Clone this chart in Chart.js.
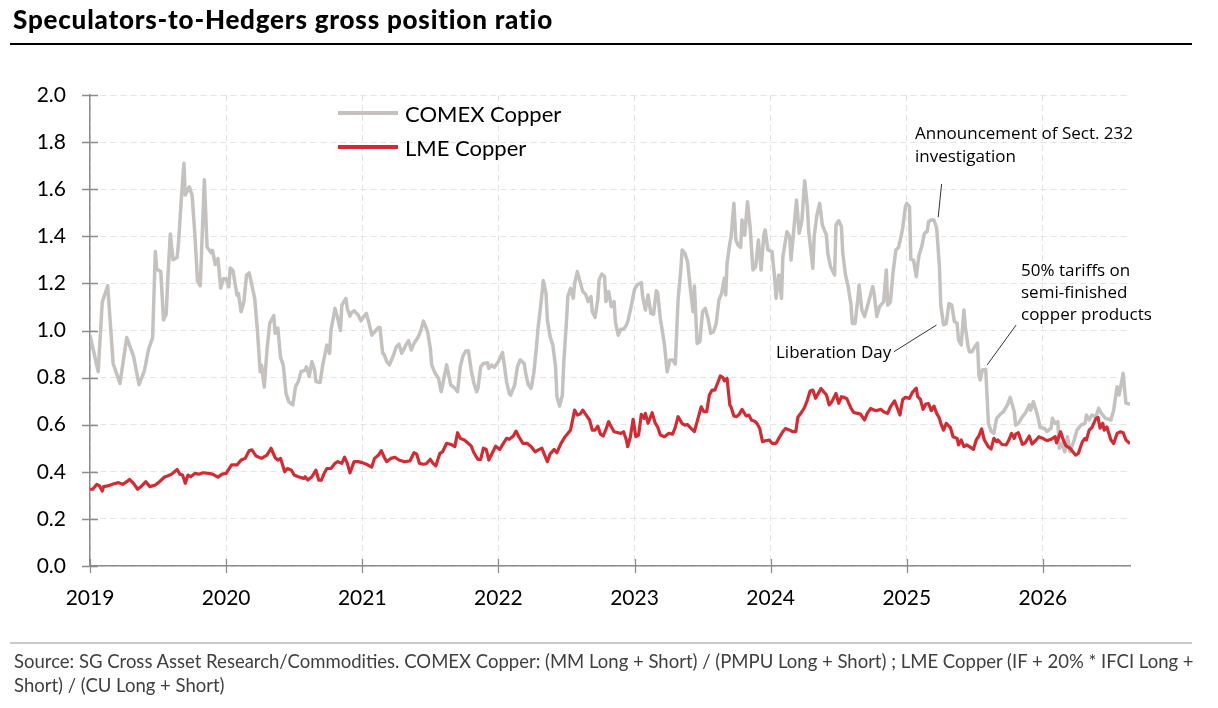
<!DOCTYPE html>
<html>
<head>
<meta charset="utf-8">
<script src="https://cdn.jsdelivr.net/npm/chart.js@4.4.1/dist/chart.umd.min.js"></script>
<style>
  html, body { margin:0; padding:0; background:#fff; }
  body { width:1218px; height:708px; position:relative; overflow:hidden; }
  #c { position:absolute; left:0; top:0; }
  .abs { position:absolute; z-index:2; }
  #title { left:13px; top:3.5px; font:900 26px 'Lato'; line-height:1.2; color:#000; white-space:nowrap; }
  #rule { left:10px; top:42.7px; width:1182px; height:2.7px; background:#000; }
  #frule { left:10px; top:642px; width:1182px; height:2px; background:#c9c9c9; }
  #foot { left:14px; top:650.4px; font:18.5px 'Lato'; color:#404040; line-height:23.5px; white-space:nowrap; }
  .leg { left:338px; height:34px; display:flex; align-items:center; font:22px 'Lato'; color:#000; white-space:nowrap; }
  .sw { width:60px; height:4px; margin-right:7px; }
  .ann { font:17px 'Open Sans'; color:#000; line-height:22.5px; white-space:nowrap; }
</style>
</head>
<body>
<canvas id="c" width="1218" height="708"></canvas>
<div id="title" class="abs">Speculators-to-Hedgers gross position ratio</div>
<div id="rule" class="abs"></div>
<div class="abs leg" style="top:96px"><span class="sw" style="background:#c4c1bf"></span>COMEX Copper</div>
<div class="abs leg" style="top:130px"><span class="sw" style="background:#d42a32"></span>LME Copper</div>
<div class="abs ann" style="left:915px; top:122px">Announcement of Sect. 232<br>investigation</div>
<div class="abs ann" style="left:776px; top:341px">Liberation Day</div>
<div class="abs ann" style="left:1021px; top:259px; line-height:22px">50% tariffs on<br>semi-finished<br>copper products</div>
<div id="frule" class="abs"></div>
<div id="foot" class="abs">Source: SG Cross Asset Research/Commodities. COMEX Copper: (MM Long + Short) / (PMPU Long + Short) ; LME Copper (IF + 20% * IFCI Long +<br>Short) / (CU Long + Short)</div>
<script>
// ---- data ----
const xTicks = [2019, 2020, 2021, 2022, 2023, 2024, 2025, 2026];
const yTicks = [0, 0.2, 0.4, 0.6, 0.8, 1.0, 1.2, 1.4, 1.6, 1.8, 2.0];

const comexDates = [
 2019.00,2019.06,2019.09,2019.13,2019.17,2019.22,2019.27,2019.32,2019.34,2019.36,
 2019.40,2019.43,2019.46,2019.48,2019.49,2019.52,2019.54,2019.56,2019.57,2019.59,
 2019.61,2019.64,2019.65,2019.67,2019.69,2019.70,2019.73,2019.75,2019.77,2019.79,
 2019.81,2019.82,2019.84,2019.86,2019.89,2019.90,2019.92,2019.94,2019.96,2019.98,
 2020.00,2020.02,2020.03,2020.05,2020.08,2020.09,2020.11,2020.13,2020.15,2020.17,
 2020.21,2020.23,2020.25,2020.26,2020.28,2020.30,2020.32,2020.35,2020.36,2020.38,
 2020.40,2020.42,2020.44,2020.46,2020.49,2020.51,2020.53,2020.55,2020.58,2020.59,
 2020.61,2020.63,2020.65,2020.66,2020.69,2020.71,2020.74,2020.76,2020.77,2020.80,
 2020.82,2020.84,2020.85,2020.88,2020.89,2020.91,2020.92,2020.94,2020.97,2020.99,
 2021.01,2021.03,2021.05,2021.07,2021.10,2021.12,2021.13,2021.15,2021.16,2021.18,
 2021.20,2021.23,2021.25,2021.27,2021.29,2021.32,2021.34,2021.36,2021.38,2021.41,
 2021.43,2021.45,2021.48,2021.50,2021.51,2021.53,2021.56,2021.58,2021.60,2021.62,
 2021.63,2021.65,2021.68,2021.70,2021.72,2021.74,2021.76,2021.78,2021.80,2021.82,
 2021.84,2021.85,2021.87,2021.89,2021.92,2021.93,2021.95,2021.97,2022.00,2022.03,
 2022.04,2022.06,2022.08,2022.09,2022.12,2022.14,2022.16,2022.19,2022.20,2022.22,
 2022.24,2022.26,2022.28,2022.29,2022.31,2022.33,2022.35,2022.36,2022.38,2022.40,
 2022.42,2022.43,2022.45,2022.47,2022.48,2022.50,2022.51,2022.53,2022.55,2022.56,
 2022.58,2022.60,2022.62,2022.64,2022.66,2022.68,2022.69,2022.71,2022.73,2022.74,
 2022.76,2022.78,2022.79,2022.81,2022.83,2022.85,2022.86,2022.88,2022.90,2022.92,
 2022.94,2022.95,2022.97,2023.00,2023.02,2023.05,2023.06,2023.08,2023.10,2023.12,
 2023.14,2023.16,2023.17,2023.19,2023.22,2023.24,2023.26,2023.28,2023.30,2023.32,
 2023.34,2023.35,2023.37,2023.39,2023.41,2023.43,2023.44,2023.46,2023.48,2023.50,
 2023.52,2023.54,2023.56,2023.58,2023.60,2023.62,2023.64,2023.66,2023.67,2023.68,
 2023.70,2023.71,2023.73,2023.745,2023.76,2023.78,2023.79,2023.81,2023.83,2023.85,
 2023.87,2023.89,2023.91,2023.93,2023.95,2023.96,2023.98,2024.01,2024.03,2024.04,
 2024.06,2024.08,2024.09,2024.12,2024.14,2024.15,2024.17,2024.19,2024.21,2024.23,
 2024.25,2024.27,2024.28,2024.31,2024.32,2024.34,2024.36,2024.38,2024.41,2024.42,
 2024.44,2024.47,2024.48,2024.50,2024.52,2024.53,2024.55,2024.57,2024.59,2024.60,
 2024.62,2024.64,2024.65,2024.67,2024.69,2024.71,2024.73,2024.75,2024.76,2024.78,
 2024.80,2024.83,2024.85,2024.86,2024.88,2024.90,2024.92,2024.94,2024.96,2024.97,
 2024.99,2025.00,2025.02,2025.03,2025.05,2025.07,2025.09,2025.11,2025.13,2025.15,
 2025.16,2025.18,2025.20,2025.22,2025.24,2025.25,2025.27,2025.29,2025.31,2025.33,
 2025.35,2025.37,2025.38,2025.40,2025.42,2025.43,2025.45,2025.46,2025.48,2025.50,
 2025.52,2025.53,2025.54,2025.555,2025.58,2025.59,2025.60,2025.62,2025.64,2025.66,
 2025.69,2025.71,2025.74,2025.76,2025.79,2025.80,2025.82,2025.85,2025.87,2025.90,
 2025.91,2025.93,2025.96,2025.98,2026.01,2026.03,2026.06,2026.07,2026.09,2026.11,
 2026.12,2026.14,2026.16,2026.18,2026.20,2026.23,2026.25,2026.28,2026.31,2026.32,
 2026.34,2026.36,2026.39,2026.41,2026.43,2026.46,2026.50,2026.52,2026.545,2026.56,
 2026.59,2026.61,2026.64
];
const comexValues = [
 0.98,0.825,1.12,1.19,0.86,0.775,0.97,0.89,0.83,0.77,
 0.83,0.92,0.97,1.335,1.26,1.25,1.045,1.07,1.2,1.41,
 1.30,1.31,1.37,1.55,1.71,1.575,1.61,1.575,1.41,1.21,
 1.19,1.34,1.64,1.355,1.33,1.34,1.28,1.305,1.18,1.22,
 1.22,1.185,1.265,1.255,1.15,1.157,1.08,1.12,1.235,1.245,
 1.135,1.0,0.825,0.853,0.76,0.917,1.03,1.063,0.988,1.01,
 0.885,0.853,0.733,0.698,0.684,0.762,0.783,0.825,0.832,0.846,
 0.804,0.868,0.832,0.783,0.779,0.854,0.938,0.903,1.0,1.094,
 1.052,1.0,1.108,1.136,1.094,1.061,1.075,1.084,1.066,1.041,
 1.058,1.073,1.03,0.98,1.0,1.013,1.013,0.903,0.9,0.868,
 0.854,0.896,0.931,0.942,0.903,0.938,0.957,0.917,0.945,0.971,
 1.0,1.04,0.995,0.924,0.854,0.825,0.797,0.74,0.797,0.854,
 0.825,0.769,0.755,0.74,0.846,0.892,0.913,0.914,0.832,0.776,
 0.74,0.754,0.846,0.86,0.863,0.839,0.853,0.843,0.868,0.906,
 0.868,0.783,0.733,0.726,0.769,0.846,0.875,0.86,0.82,0.769,
 0.754,0.818,0.931,1.002,1.101,1.212,1.158,1.045,0.974,0.938,
 0.846,0.719,0.679,0.726,0.86,1.037,1.144,1.179,1.137,1.198,
 1.25,1.208,1.165,1.155,1.123,1.144,1.08,1.056,1.13,1.215,
 1.24,1.229,1.123,1.165,1.101,1.123,1.037,0.98,1.005,1.005,
 1.023,1.037,1.087,1.175,1.194,1.203,1.144,1.087,1.151,1.073,
 1.069,1.169,1.16,1.05,0.94,0.825,0.875,0.875,0.858,1.129,
 1.257,1.342,1.328,1.292,1.179,1.08,1.189,0.945,0.952,1.08,
 1.094,1.052,0.988,0.995,1.03,1.129,1.158,1.222,1.151,1.285,
 1.37,1.399,1.54,1.384,1.363,1.353,1.469,1.405,1.547,1.434,
 1.257,1.271,1.384,1.257,1.405,1.427,1.342,1.335,1.222,1.137,
 1.236,1.137,1.313,1.419,1.399,1.299,1.427,1.554,1.413,1.469,
 1.636,1.526,1.419,1.264,1.399,1.491,1.54,1.448,1.405,1.328,
 1.271,1.236,1.448,1.466,1.441,1.328,1.236,1.186,1.11,1.03,
 1.03,1.129,1.193,1.087,1.059,1.101,1.144,1.186,1.158,1.059,
 1.101,1.122,1.257,1.108,1.122,1.25,1.342,1.353,1.405,1.434,
 1.526,1.54,1.526,1.302,1.299,1.228,1.32,1.356,1.413,1.42,
 1.462,1.469,1.469,1.434,1.271,1.108,1.024,1.03,1.115,1.108,
 1.038,1.03,0.96,0.939,1.087,1.016,0.935,0.91,0.91,0.932,
 0.946,0.81,0.79,0.832,0.835,0.72,0.606,0.571,0.563,0.627,
 0.646,0.655,0.684,0.716,0.655,0.598,0.606,0.634,0.648,0.684,
 0.662,0.698,0.641,0.588,0.585,0.571,0.585,0.627,0.606,0.613,
 0.5,0.52,0.485,0.549,0.485,0.535,0.577,0.598,0.606,0.641,
 0.62,0.641,0.634,0.67,0.648,0.627,0.62,0.662,0.761,0.726,
 0.818,0.691,0.688
];

const lmeDates = [
 2019.00,2019.02,2019.05,2019.07,2019.09,2019.10,2019.13,2019.17,2019.21,2019.24,
 2019.27,2019.29,2019.32,2019.35,2019.38,2019.41,2019.44,2019.48,2019.51,2019.55,
 2019.57,2019.60,2019.64,2019.66,2019.68,2019.70,2019.72,2019.74,2019.77,2019.80,
 2019.83,2019.87,2019.90,2019.94,2019.97,2020.00,2020.04,2020.08,2020.11,2020.14,
 2020.17,2020.19,2020.22,2020.26,2020.30,2020.33,2020.36,2020.38,2020.40,2020.43,
 2020.45,2020.48,2020.50,2020.53,2020.57,2020.58,2020.60,2020.63,2020.66,2020.68,
 2020.70,2020.72,2020.74,2020.77,2020.80,2020.82,2020.85,2020.87,2020.89,2020.91,
 2020.94,2020.97,2021.00,2021.03,2021.07,2021.09,2021.12,2021.14,2021.16,2021.18,
 2021.21,2021.24,2021.27,2021.31,2021.35,2021.38,2021.40,2021.42,2021.45,2021.47,
 2021.50,2021.52,2021.54,2021.57,2021.59,2021.62,2021.64,2021.66,2021.68,2021.70,
 2021.72,2021.75,2021.78,2021.80,2021.82,2021.85,2021.87,2021.89,2021.91,2021.93,
 2021.96,2021.98,2022.01,2022.03,2022.06,2022.08,2022.11,2022.13,2022.15,2022.18,
 2022.21,2022.24,2022.27,2022.29,2022.32,2022.34,2022.36,2022.38,2022.41,2022.43,
 2022.46,2022.49,2022.51,2022.53,2022.56,2022.58,2022.60,2022.62,2022.64,2022.67,
 2022.69,2022.71,2022.73,2022.75,2022.77,2022.79,2022.81,2022.83,2022.85,2022.88,
 2022.90,2022.92,2022.94,2022.95,2022.97,2022.99,2023.01,2023.03,2023.05,2023.07,
 2023.08,2023.10,2023.13,2023.15,2023.17,2023.19,2023.22,2023.25,2023.28,2023.30,
 2023.32,2023.35,2023.37,2023.39,2023.41,2023.44,2023.46,2023.49,2023.51,2023.53,
 2023.55,2023.57,2023.59,2023.61,2023.63,2023.65,2023.66,2023.68,2023.70,2023.71,
 2023.73,2023.75,2023.77,2023.79,2023.82,2023.84,2023.86,2023.88,2023.90,2023.92,
 2023.94,2023.96,2023.99,2024.01,2024.04,2024.06,2024.09,2024.11,2024.14,2024.16,
 2024.185,2024.20,2024.23,2024.25,2024.27,2024.29,2024.31,2024.33,2024.35,2024.37,
 2024.39,2024.41,2024.43,2024.45,2024.48,2024.50,2024.52,2024.54,2024.56,2024.59,
 2024.61,2024.64,2024.66,2024.69,2024.71,2024.735,2024.76,2024.78,2024.81,2024.83,
 2024.86,2024.88,2024.91,2024.93,2024.95,2024.97,2024.99,2025.02,2025.04,2025.07,
 2025.08,2025.10,2025.12,2025.14,2025.16,2025.18,2025.20,2025.22,2025.24,2025.25,
 2025.27,2025.29,2025.32,2025.34,2025.37,2025.38,2025.40,2025.42,2025.44,2025.46,
 2025.49,2025.51,2025.53,2025.55,2025.57,2025.60,2025.62,2025.64,2025.66,2025.67,
 2025.70,2025.73,2025.75,2025.77,2025.79,2025.80,2025.82,2025.85,2025.87,2025.90,
 2025.92,2025.95,2025.97,2026.00,2026.03,2026.06,2026.09,2026.10,2026.13,2026.15,
 2026.17,2026.20,2026.22,2026.24,2026.26,2026.29,2026.31,2026.32,2026.34,2026.36,
 2026.39,2026.405,2026.42,2026.44,2026.45,2026.47,2026.50,2026.52,2026.545,2026.57,
 2026.59,2026.61,2026.64
];
const lmeValues = [
 0.326,0.326,0.347,0.34,0.318,0.337,0.34,0.348,0.354,0.347,
 0.358,0.368,0.351,0.326,0.34,0.358,0.337,0.344,0.358,0.379,
 0.382,0.39,0.41,0.39,0.386,0.351,0.386,0.379,0.393,0.39,
 0.396,0.393,0.39,0.377,0.39,0.393,0.429,0.429,0.45,0.457,
 0.49,0.493,0.467,0.457,0.471,0.5,0.46,0.45,0.457,0.4,
 0.414,0.407,0.386,0.379,0.372,0.379,0.365,0.379,0.407,0.365,
 0.365,0.393,0.414,0.414,0.436,0.443,0.436,0.462,0.436,0.396,
 0.443,0.443,0.439,0.432,0.42,0.457,0.471,0.49,0.464,0.443,
 0.457,0.462,0.45,0.443,0.446,0.481,0.475,0.436,0.432,0.434,
 0.453,0.436,0.425,0.478,0.485,0.521,0.518,0.514,0.507,0.566,
 0.542,0.535,0.52,0.51,0.481,0.453,0.453,0.5,0.496,0.45,
 0.485,0.509,0.495,0.514,0.542,0.538,0.552,0.573,0.549,0.521,
 0.521,0.507,0.485,0.492,0.5,0.471,0.443,0.476,0.495,0.481,
 0.521,0.549,0.563,0.577,0.662,0.641,0.645,0.662,0.645,0.62,
 0.577,0.577,0.594,0.56,0.552,0.58,0.613,0.59,0.57,0.566,
 0.563,0.57,0.535,0.507,0.549,0.623,0.549,0.556,0.644,0.627,
 0.648,0.606,0.651,0.61,0.59,0.556,0.549,0.563,0.56,0.59,
 0.634,0.605,0.598,0.6,0.588,0.571,0.613,0.676,0.655,0.655,
 0.726,0.747,0.747,0.776,0.807,0.8,0.786,0.797,0.684,0.674,
 0.637,0.634,0.645,0.665,0.637,0.641,0.619,0.616,0.605,0.584,
 0.528,0.532,0.535,0.521,0.521,0.542,0.571,0.584,0.577,0.571,
 0.571,0.632,0.655,0.674,0.705,0.743,0.747,0.712,0.733,0.754,
 0.74,0.726,0.684,0.698,0.733,0.691,0.719,0.716,0.71,0.67,
 0.652,0.648,0.645,0.62,0.648,0.669,0.662,0.66,0.665,0.655,
 0.648,0.676,0.701,0.672,0.641,0.707,0.716,0.712,0.736,0.755,
 0.719,0.708,0.665,0.688,0.69,0.66,0.679,0.648,0.627,0.606,
 0.577,0.606,0.589,0.549,0.542,0.514,0.535,0.507,0.514,0.507,
 0.495,0.535,0.552,0.582,0.535,0.506,0.497,0.542,0.528,0.535,
 0.516,0.514,0.535,0.563,0.542,0.56,0.566,0.516,0.523,0.552,
 0.518,0.535,0.549,0.542,0.532,0.538,0.549,0.523,0.57,0.535,
 0.51,0.5,0.485,0.471,0.478,0.528,0.542,0.535,0.577,0.588,
 0.627,0.631,0.585,0.606,0.577,0.59,0.535,0.52,0.563,0.57,
 0.566,0.535,0.52
];

// annotation connectors, in data units (year, ratio)
const connectors = [
  { from: [2025.256, 1.622], to: [2025.231, 1.481] },  // Sect. 232
  { from: [2024.906, 0.910], to: [2025.218, 1.023] },  // Liberation Day
  { from: [2025.803, 1.023], to: [2025.591, 0.854] }   // 50% tariffs
];

const GRAY = '#c4c1bf';
const RED = '#d42a32';
const AXIS = '#8c8c8c';

// fit the title to the reference width
(function fitTitle() {
  const t = document.getElementById('title');
  const target = 540;
  const n = t.textContent.length;
  const w = t.getBoundingClientRect().width;
  t.style.letterSpacing = ((target - w) / (n - 1)).toFixed(2) + 'px';
})();

const toPts = (xs, ys) => xs.map((d, i) => ({ x: d, y: ys[i] }));

const overlay = {
  id: 'overlay',
  afterDraw(chart) {
    const { ctx, chartArea: a, scales: { x, y } } = chart;
    ctx.save();
    ctx.strokeStyle = AXIS;
    ctx.lineWidth = 1.3;
    ctx.beginPath();
    y.ticks.forEach(t => {
      const py = Math.round(y.getPixelForValue(t.value)) + 0.5;
      ctx.moveTo(a.left - 8, py); ctx.lineTo(a.left + 8, py);
    });
    x.ticks.forEach(t => {
      const px = Math.round(x.getPixelForValue(t.value)) + 0.5;
      ctx.moveTo(px, a.bottom - 7); ctx.lineTo(px, a.bottom + 7);
    });
    ctx.stroke();
    ctx.strokeStyle = '#333';
    ctx.lineWidth = 1;
    ctx.beginPath();
    connectors.forEach(c => {
      ctx.moveTo(x.getPixelForValue(c.from[0]), y.getPixelForValue(c.from[1]));
      ctx.lineTo(x.getPixelForValue(c.to[0]), y.getPixelForValue(c.to[1]));
    });
    ctx.stroke();
    ctx.restore();
  }
};

const gridOpts = { color: '#e4e4e4', lineWidth: 1, drawTicks: false };
const borderOpts = { display: true, color: AXIS, width: 1.5, dash: [6, 4] };

new Chart(document.getElementById('c'), {
  type: 'line',
  data: {
    datasets: [
      { label: 'LME Copper', data: toPts(lmeDates, lmeValues), borderColor: RED, borderWidth: 3.2,
        pointRadius: 0, tension: 0, order: 0, borderJoinStyle: 'round' },
      { label: 'COMEX Copper', data: toPts(comexDates, comexValues), borderColor: GRAY, borderWidth: 3.5,
        pointRadius: 0, tension: 0, order: 1, borderJoinStyle: 'round' }
    ]
  },
  options: {
    responsive: false,
    animation: false,
    layout: { padding: { top: 95, right: 88, left: 0, bottom: 0 } },
    plugins: { legend: { display: false }, tooltip: { enabled: false } },
    scales: {
      x: {
        type: 'linear', min: 2019, max: 2026.64,
        afterBuildTicks: s => { s.ticks = xTicks.map(v => ({ value: v })); },
        afterFit: s => { s.height = 142; },
        ticks: { callback: v => String(v), font: { family: 'Lato', size: 21 }, color: '#000',
                 padding: 20, maxRotation: 0, autoSkip: false },
        grid: gridOpts, border: borderOpts
      },
      y: {
        min: 0, max: 2,
        afterBuildTicks: s => { s.ticks = yTicks.map(v => ({ value: v })); },
        afterFit: s => { s.width = 90; },
        ticks: { callback: v => v.toFixed(1), font: { family: 'Lato', size: 21 }, color: '#000', padding: 24 },
        grid: gridOpts, border: borderOpts
      }
    }
  },
  plugins: [overlay]
});
</script>
</body>
</html>
